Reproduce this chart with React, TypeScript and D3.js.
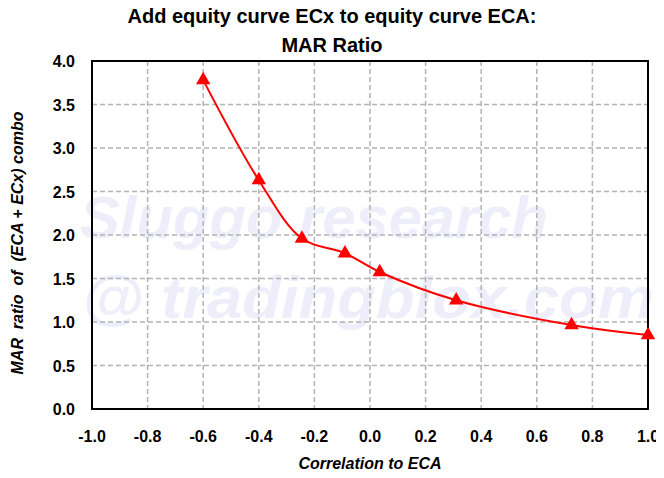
import React, { useEffect, useRef } from 'react';
import * as d3 from 'd3';

const correlation = [-0.6, -0.4, -0.245, -0.09, 0.035, 0.31, 0.725, 1.0];
const marRatio = [3.78, 2.63, 1.96, 1.79, 1.575, 1.25, 0.965, 0.85];
const xTicks = [-1.0, -0.8, -0.6, -0.4, -0.2, 0.0, 0.2, 0.4, 0.6, 0.8, 1.0];
const yTicks = [0, 0.5, 1.0, 1.5, 2.0, 2.5, 3.0, 3.5, 4.0];
const titleLines = ['Add equity curve ECx to equity curve ECA:', 'MAR Ratio'];

const App: React.FC = () => {
  const svgRef = useRef<SVGSVGElement>(null);

  useEffect(() => {
    if (!svgRef.current) return;
    d3.select(svgRef.current).selectAll('*').remove();

    const svg = d3.select(svgRef.current);
    const font = '"Liberation Sans", Arial, sans-serif';
    const margin = { top: 61, right: 16, bottom: 69, left: 92 };
    const width = 664 - margin.left - margin.right;
    const height = 478 - margin.top - margin.bottom;

    svg.append('rect').attr('width', 664).attr('height', 478).attr('fill', '#fff');

    // Title
    titleLines.forEach((t, i) => {
      svg.append('text')
        .attr('x', 332)
        .attr('y', 23 + i * 29)
        .attr('text-anchor', 'middle')
        .style('font-family', font)
        .style('font-weight', 'bold')
        .style('font-size', '20px')
        .text(t);
    });

    const x = d3.scaleLinear().domain([-1, 1]).range([0, width]);
    const y = d3.scaleLinear().domain([0, 4]).range([height, 0]);
    const fmt = (d: number) => d.toFixed(1);

    const g = svg.append('g').attr('transform', `translate(${margin.left},${margin.top})`);

    // Watermark
    const wm = g.append('g').attr('fill', '#eeeefb')
      .style('font-family', font)
      .style('font-weight', 'bold')
      .style('font-style', 'italic')
      .style('font-size', '60px');
    wm.append('text').attr('x', -12).attr('y', 177).attr('textLength', 468)
      .attr('lengthAdjust', 'spacingAndGlyphs').text('Sluggo research');
    wm.append('text').attr('x', -10).attr('y', 257).attr('textLength', 572)
      .attr('lengthAdjust', 'spacingAndGlyphs').text('@ tradingblox.com');

    // Grid
    g.append('g').selectAll('line')
      .data(xTicks.slice(1, -1))
      .enter().append('line')
      .attr('x1', d => x(d)).attr('x2', d => x(d))
      .attr('y1', 0).attr('y2', height)
      .attr('stroke', '#b3b3b3').attr('stroke-width', 1.5).attr('stroke-dasharray', '5,3');
    g.append('g').selectAll('line')
      .data(yTicks.slice(1, -1))
      .enter().append('line')
      .attr('y1', d => y(d)).attr('y2', d => y(d))
      .attr('x1', 0).attr('x2', width)
      .attr('stroke', '#b3b3b3').attr('stroke-width', 1.5).attr('stroke-dasharray', '5,3');

    // Border
    g.append('rect').attr('width', width).attr('height', height)
      .attr('fill', 'none').attr('stroke', '#000').attr('stroke-width', 2);

    // Tick labels
    g.append('g').selectAll('text')
      .data(xTicks)
      .enter().append('text')
      .attr('x', d => x(d))
      .attr('y', height + 33)
      .attr('text-anchor', 'middle')
      .style('font-family', font).style('font-weight', 'bold').style('font-size', '16px')
      .text(fmt);
    g.append('g').selectAll('text')
      .data(yTicks)
      .enter().append('text')
      .attr('x', -17)
      .attr('y', d => y(d) + 6)
      .attr('text-anchor', 'end')
      .style('font-family', font).style('font-weight', 'bold').style('font-size', '16px')
      .text(fmt);

    // Axis titles
    svg.append('text')
      .attr('x', 370)
      .attr('y', 469)
      .attr('text-anchor', 'middle')
      .style('font-family', font).style('font-weight', 'bold').style('font-style', 'italic')
      .style('font-size', '16px')
      .text('Correlation to ECA');
    svg.append('text')
      .attr('transform', `translate(23,${margin.top + height / 2 + 8}) rotate(-90)`)
      .attr('text-anchor', 'middle')
      .attr('xml:space', 'preserve')
      .style('white-space', 'pre')
      .style('font-family', font).style('font-weight', 'bold').style('font-style', 'italic')
      .style('font-size', '16px')
      .text('MAR  ratio  of  (ECA + ECx) combo');

    // Line
    const pts = correlation.map((c, i) => [c, marRatio[i]] as [number, number]);
    const line = d3.line<[number, number]>()
      .x(d => x(d[0]))
      .y(d => y(d[1]))
      .curve(d3.curveCatmullRom.alpha(0.5));
    g.append('path').datum(pts)
      .attr('d', line)
      .attr('fill', 'none').attr('stroke', '#ff0000').attr('stroke-width', 2);

    // Markers
    const tri = d3.symbol().type(d3.symbolTriangle).size(90);
    g.append('g').selectAll('path')
      .data(pts)
      .enter().append('path')
      .attr('d', tri)
      .attr('transform', d => `translate(${x(d[0])},${y(d[1])})`)
      .attr('fill', '#ff0000');
  }, []);

  return <svg ref={svgRef} width={664} height={478} style={{ display: 'block', margin: '-8px' }} />;
};

export default App;
